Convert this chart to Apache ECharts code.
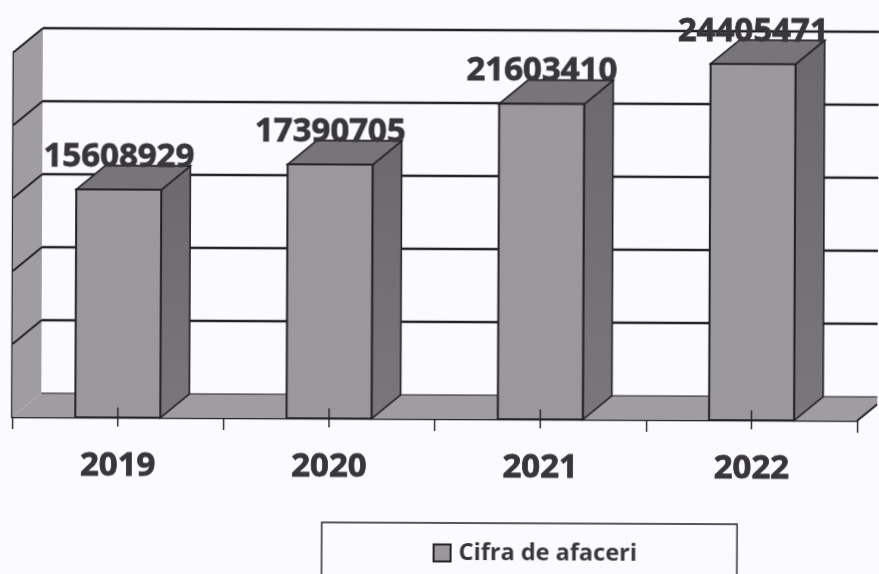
<!DOCTYPE html>
<html lang="ro">
<head>
    <meta charset="UTF-8">
    <title>Cifra de afaceri</title>
    <script src="https://cdn.jsdelivr.net/npm/echarts@6/dist/echarts.min.js"></script>
    <style>
        html, body {
            margin: 0;
            height: 100%;
            overflow: hidden;
            background: #fbfafd;
        }
        /* the source is a scan, slightly turned clockwise and a bit soft */
        #chart {
            width: 879px;
            height: 640px;
            transform: rotate(0.25deg);
            transform-origin: 0 0;
            filter: blur(0.4px);
        }
    </style>
</head>
<body>
<div id="chart"></div>

<script type="text/javascript">
    var categories = ['2019', '2020', '2021', '2022'];
    var turnover = [15608929, 17390705, 21603410, 24405471];
    var wallTicks = [0, 5000000, 10000000, 15000000, 20000000, 25000000];
    var seriesName = 'Cifra de afaceri';

    var DEPTH_X = 29;
    var DEPTH_Y = -24;
    var BAR_WIDTH = 85;
    var LINE = '#232125';
    var TEXT = '#38363a';

    function poly(points, fill, stroke, width) {
        return {
            type: 'polygon',
            shape: {points: points},
            style: {fill: fill, stroke: stroke || null, lineWidth: width || 0}
        };
    }

    function seg(x1, y1, x2, y2, width) {
        return {
            type: 'line',
            shape: {x1: x1, y1: y1, x2: x2, y2: y2},
            style: {stroke: LINE, lineWidth: width, fill: null}
        };
    }

    // back wall lines, left wall and floor
    function renderWall(params, api) {
        var rect = params.coordSys;
        var left = rect.x;
        var right = rect.x + rect.width;
        var y = api.coord([0, api.value(0)])[1];
        var children = [];

        if (params.dataIndex === 0) {
            var top = api.coord([0, wallTicks[wallTicks.length - 1]])[1];
            children.push(poly([
                [left, y], [left, top],
                [left + DEPTH_X, top + DEPTH_Y], [left + DEPTH_X, y + DEPTH_Y]
            ], '#a09da2'));
            children.push(poly([
                [left, y], [right, y],
                [right + DEPTH_X, y + DEPTH_Y], [left + DEPTH_X, y + DEPTH_Y]
            ], '#a09da2'));
            children.push(seg(right, y, right + DEPTH_X, y + DEPTH_Y, 2));
            children.push(seg(left + DEPTH_X, y + DEPTH_Y, right + DEPTH_X, y + DEPTH_Y, 1));
        } else {
            children.push(seg(left, y, left + DEPTH_X, y + DEPTH_Y, 2));
            children.push(seg(left + DEPTH_X, y + DEPTH_Y, right + DEPTH_X, y + DEPTH_Y, 2.4));
        }
        return {type: 'group', children: children};
    }

    function renderBar(params, api) {
        var base = api.coord([api.value(0), 0]);
        var head = api.coord([api.value(0), api.value(1)]);
        var x0 = base[0] - BAR_WIDTH / 2;
        var x1 = base[0] + BAR_WIDTH / 2;
        var dx = DEPTH_X;
        var dy = DEPTH_Y;
        var sideFill = new echarts.graphic.LinearGradient(0, 0, 0, 1, [
            {offset: 0, color: '#6b686e'},
            {offset: 1, color: '#7a777c'}
        ]);

        return {
            type: 'group',
            children: [
                poly([[x1, head[1]], [x1 + dx, head[1] + dy], [x1 + dx, base[1] + dy], [x1, base[1]]], sideFill, LINE, 1.6),
                poly([[x0, head[1]], [x0 + dx, head[1] + dy], [x1 + dx, head[1] + dy], [x1, head[1]]], '#78757a', LINE, 1.6),
                poly([[x0, head[1]], [x1, head[1]], [x1, base[1]], [x0, base[1]]], '#9b989d', LINE, 2),
                // tick at the middle of the category, drawn over the bar
                seg(base[0], base[1] - 10, base[0], base[1] + 9, 1.4),
                {
                    type: 'text',
                    style: {
                        text: String(api.value(1)),
                        x: base[0],
                        y: head[1] - 32.5,
                        align: 'center',
                        verticalAlign: 'middle',
                        font: 'bold 33px "Open Sans"',
                        fill: TEXT,
                        stroke: TEXT,
                        lineWidth: 0.8
                    }
                }
            ]
        };
    }

    var myChart = echarts.init(document.getElementById('chart'));
    var option = {
        animation: false,
        backgroundColor: '#fbfafd',
        grid: {left: 14, top: 52, width: 845, height: 365},
        xAxis: {
            type: 'category',
            data: categories,
            axisLine: {lineStyle: {color: LINE, width: 2.4}},
            axisTick: {show: true, length: 12, lineStyle: {color: LINE, width: 1.4}},
            axisLabel: {
                margin: 32,
                fontFamily: 'Open Sans',
                fontWeight: 'bold',
                fontSize: 33,
                color: TEXT,
                textBorderColor: TEXT,
                textBorderWidth: 0.8
            }
        },
        yAxis: {
            type: 'value',
            min: 0,
            max: 25000000,
            interval: 5000000,
            axisLine: {show: true, lineStyle: {color: LINE, width: 2.4}},
            axisTick: {show: false},
            axisLabel: {show: false},
            splitLine: {show: false}
        },
        legend: {
            left: 324,
            top: 521,
            padding: [18, 100, 42, 111],
            borderColor: LINE,
            borderWidth: 1.4,
            itemWidth: 17,
            itemHeight: 17,
            itemGap: 8,
            icon: 'rect',
            selectedMode: false,
            textStyle: {
                fontFamily: 'Open Sans',
                fontWeight: 'bold',
                fontSize: 23.5,
                color: TEXT,
                padding: [0, 0, 0, 3]
            },
            data: [{
                name: seriesName,
                itemStyle: {color: '#9b989d', borderColor: LINE, borderWidth: 2}
            }]
        },
        series: [
            {
                type: 'custom',
                name: 'wall',
                renderItem: renderWall,
                data: wallTicks.map(function (v) { return [v]; }),
                encode: {y: 0},
                z: 1,
                silent: true
            },
            {
                type: 'custom',
                name: seriesName,
                renderItem: renderBar,
                data: turnover.map(function (v, i) { return [i, v]; }),
                encode: {x: 0, y: 1},
                itemStyle: {color: '#9b989d'},
                z: 3
            }
        ]
    };
    myChart.setOption(option);
</script>
</body>
</html>
